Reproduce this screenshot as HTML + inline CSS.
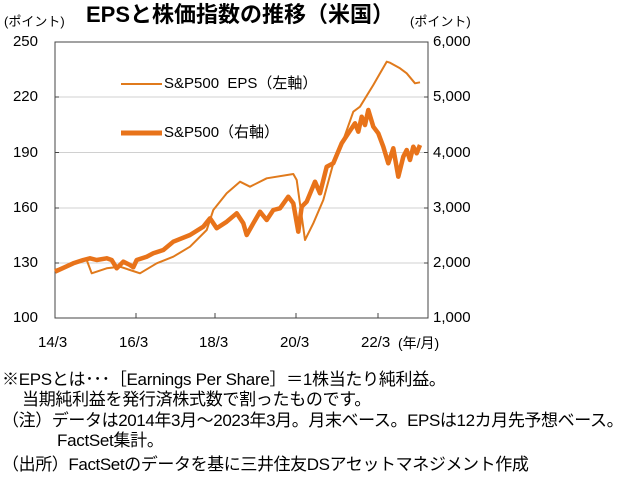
<!DOCTYPE html>
<html><head><meta charset="utf-8"><style>
body{margin:0;width:640px;height:481px;background:#fff;overflow:hidden;font-family:"Liberation Sans","Noto Sans CJK JP",sans-serif;color:#000}
.t{position:absolute;white-space:nowrap;line-height:1}
</style></head><body>
<div class="t" style="left:0;width:480px;text-align:center;top:4px;font-size:22px;font-weight:bold">EPSと株価指数の推移（米国）</div>
<div class="t" style="left:4px;top:15px;font-size:13px">(ポイント)</div>
<div class="t" style="left:410px;top:15px;font-size:13px">(ポイント)</div>
<svg width="640" height="481" style="position:absolute;left:0;top:0">
<g stroke="#d0d0d0" stroke-width="1">
<line x1="55" y1="97" x2="428" y2="97"/><line x1="55" y1="152.5" x2="428" y2="152.5"/><line x1="55" y1="208" x2="428" y2="208"/><line x1="55" y1="263" x2="428" y2="263"/>
</g>
<rect x="55" y="42" width="373" height="276" fill="none" stroke="#444" stroke-width="1"/>
<g stroke="#444"><line x1="136" y1="318" x2="136" y2="313"/><line x1="215" y1="318" x2="215" y2="313"/><line x1="296" y1="318" x2="296" y2="313"/><line x1="378" y1="318" x2="378" y2="313"/>
<line x1="55" y1="97" x2="59" y2="97"/><line x1="55" y1="152.5" x2="59" y2="152.5"/><line x1="55" y1="208" x2="59" y2="208"/><line x1="55" y1="263" x2="59" y2="263"/>
<line x1="424" y1="97" x2="428" y2="97"/><line x1="424" y1="152.5" x2="428" y2="152.5"/><line x1="424" y1="208" x2="428" y2="208"/><line x1="424" y1="263" x2="428" y2="263"/></g>
<polyline fill="none" stroke="#e07a1c" stroke-width="2" stroke-linejoin="round" points="55,270 73.3,263.3 86.7,260 91.7,273.3 106.7,268.3 120,266.7 130,270 140,273.3 156.7,263.3 173.3,256.7 190,246.7 206.7,230 213.3,210 226.7,193.3 240,181.7 250,186.7 266.7,178.3 293.3,174 296.7,180 305,240 313.3,223.3 323.3,200 333.3,163.3 343.3,140 353.3,111.7 360,106.7 373.3,85 386.7,61.7 390,62.7 400,68.3 406.7,73.3 415,83.3 420,82.3"/>
<polyline fill="none" stroke="#e8731a" stroke-width="4.5" stroke-linejoin="round" points="55,271.7 73.3,263.3 83.3,260 90,258.3 96.7,260 106.7,258.3 111.7,260 116.7,268.3 123.3,261.7 130,265 133.3,267.3 136.7,260 146.7,256.7 153.3,253.3 163.3,250 173.3,241.7 190,235 203.3,226.7 210,218.3 216.7,228.3 226.7,221.7 236.7,213.3 243.3,223.3 246.7,235 253.3,223.3 260,211.7 266.7,220 273.3,210 280,208.3 288.3,196.7 293.3,203.3 298.3,231.7 301.7,206.7 306.7,201.7 315,181.7 320,193.3 326.7,166.7 333.3,163.3 341.7,143.3 348.3,133.3 355,123.3 358.3,131.7 361.7,116.7 365,125 368.3,110 373.3,126.7 378.3,133.3 383.3,146.7 388.3,163.3 393.3,148.3 398.3,176.7 403.3,156.7 406.7,150 410,160 413.3,146.7 416.7,153.3 420,145"/>
<line x1="121" y1="84" x2="162" y2="84" stroke="#e07a1c" stroke-width="2"/>
<line x1="121" y1="133" x2="162" y2="133" stroke="#e8731a" stroke-width="5"/>
</svg>
<div class="t" style="left:164px;top:76px;font-size:15px">S&amp;P500&nbsp; EPS（左軸）</div>
<div class="t" style="left:164px;top:125px;font-size:15px">S&amp;P500（右軸）</div>
<div class="t" style="left:0;width:38px;text-align:right;top:34px;font-size:15px">250</div>
<div class="t" style="left:0;width:38px;text-align:right;top:89px;font-size:15px">220</div>
<div class="t" style="left:0;width:38px;text-align:right;top:145px;font-size:15px">190</div>
<div class="t" style="left:0;width:38px;text-align:right;top:200px;font-size:15px">160</div>
<div class="t" style="left:0;width:38px;text-align:right;top:255px;font-size:15px">130</div>
<div class="t" style="left:0;width:38px;text-align:right;top:310px;font-size:15px">100</div>
<div class="t" style="left:433px;top:34px;font-size:15px">6,000</div>
<div class="t" style="left:433px;top:89px;font-size:15px">5,000</div>
<div class="t" style="left:433px;top:145px;font-size:15px">4,000</div>
<div class="t" style="left:433px;top:200px;font-size:15px">3,000</div>
<div class="t" style="left:433px;top:255px;font-size:15px">2,000</div>
<div class="t" style="left:433px;top:310px;font-size:15px">1,000</div>
<div class="t" style="left:38px;top:335px;font-size:15px">14/3</div>
<div class="t" style="left:119px;top:335px;font-size:15px">16/3</div>
<div class="t" style="left:199px;top:335px;font-size:15px">18/3</div>
<div class="t" style="left:280px;top:335px;font-size:15px">20/3</div>
<div class="t" style="left:361px;top:335px;font-size:15px">22/3</div>
<div class="t" style="left:398px;top:336px;font-size:14px">(年/月)</div>
<div class="t" style="left:2px;top:371px;font-size:17px;letter-spacing:-0.3px">※EPSとは･･･［Earnings Per Share］＝1株当たり純利益。</div>
<div class="t" style="left:22px;top:391px;font-size:17px;letter-spacing:-0.3px">当期純利益を発行済株式数で割ったものです。</div>
<div class="t" style="left:2px;top:412px;font-size:17px;letter-spacing:-0.4px">（注）データは2014年3月～2023年3月。月末ベース。EPSは12カ月先予想ベース。</div>
<div class="t" style="left:57px;top:432px;font-size:17px;letter-spacing:-0.3px">FactSet集計。</div>
<div class="t" style="left:2px;top:456px;font-size:17px;letter-spacing:-0.4px">（出所）FactSetのデータを基に三井住友DSアセットマネジメント作成</div>
</body></html>
